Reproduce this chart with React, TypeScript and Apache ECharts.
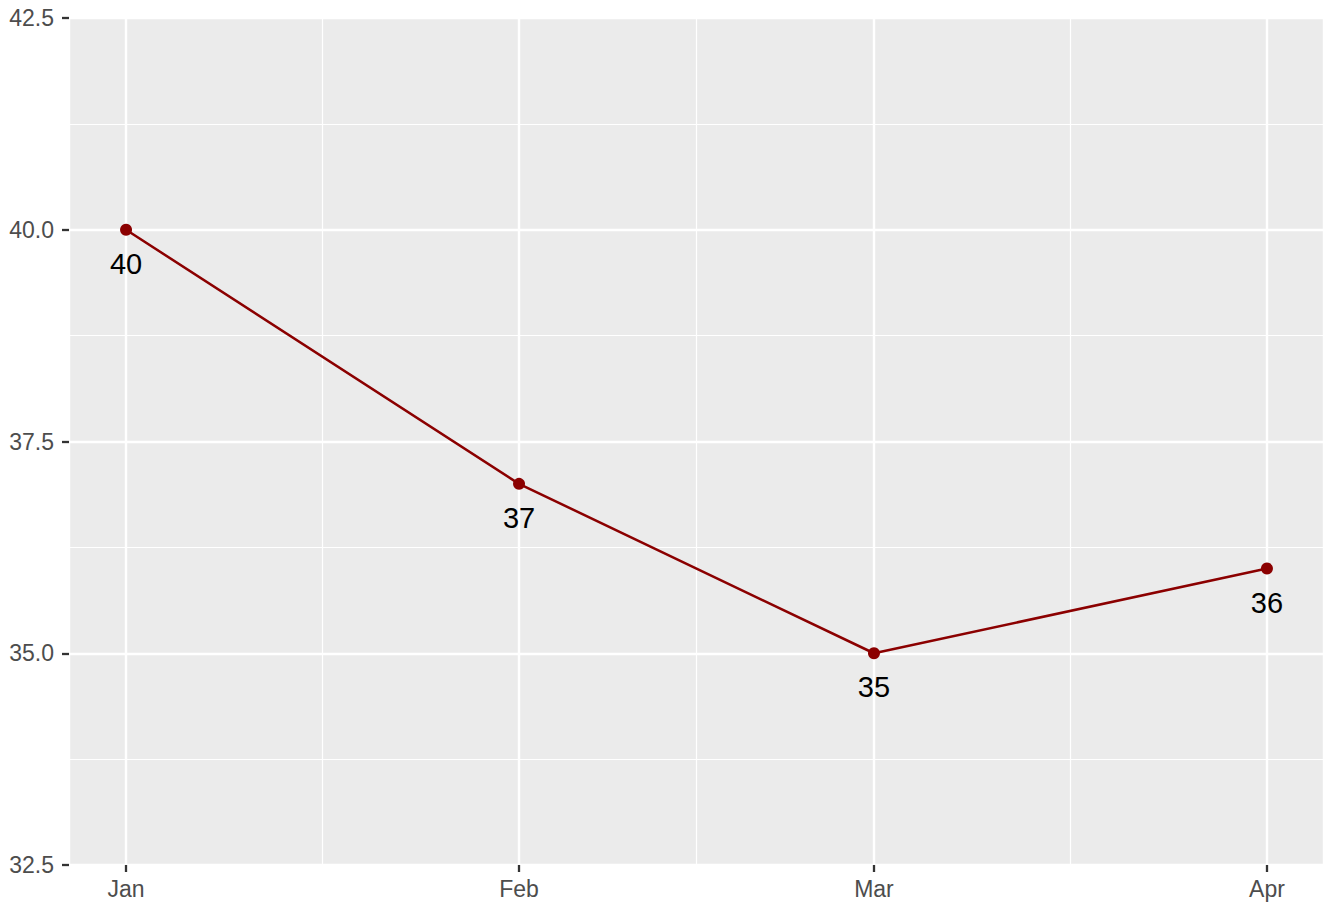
import React, { useEffect, useRef } from "react";
import * as echarts from "echarts";

const monthDates = ["2023-01-01", "2023-02-01", "2023-03-01", "2023-04-01"];
const monthNames = ["Jan", "Feb", "Mar", "Apr", "May", "Jun", "Jul", "Aug", "Sep", "Oct", "Nov", "Dec"];
const values = [40, 37, 35, 36];
const yMin = 32.5;
const yMax = 42.5;
const yStep = 2.5;

const DAY = 86400000;

export default function App() {
  const ref = useRef<HTMLDivElement>(null);
  useEffect(() => {
    document.body.style.margin = "0";
    const chart = echarts.init(ref.current!, null, { renderer: "svg" });
    const times = monthDates.map((d) => new Date(d + "T00:00:00").getTime());
    const span = times[times.length - 1] - times[0];
    const xMin = times[0] - span * 0.05;
    const xMax = times[times.length - 1] + span * 0.05;
    const minor = times.slice(1).map((t, i) => (t + times[i]) / 2);
    const font = "Liberation Sans, Arial, Helvetica, sans-serif";

    chart.setOption({
      animation: false,
      backgroundColor: "#FFFFFF",
      grid: {
        left: 69,
        right: 1,
        top: 18,
        bottom: 42,
        show: true,
        backgroundColor: "#EBEBEB",
        borderWidth: 0,
        containLabel: false,
      },
      xAxis: {
        type: "time",
        min: xMin,
        max: xMax,
        splitNumber: 3,
        minInterval: 28 * DAY,
        axisLine: { show: false },
        axisTick: { show: true, length: 7, lineStyle: { color: "#333333", width: 2.3 } },
        axisLabel: {
          color: "#4D4D4D",
          fontSize: 23,
          fontFamily: font,
          margin: 12,
          hideOverlap: false,
          formatter: (v: number) => monthNames[new Date(v).getMonth()],
        },
        splitLine: { show: true, lineStyle: { color: "#FFFFFF", width: 2.4 } },
      },
      yAxis: {
        type: "value",
        min: yMin,
        max: yMax,
        interval: yStep,
        axisLine: { show: false },
        axisTick: { show: true, length: 7, lineStyle: { color: "#333333", width: 2.3 } },
        axisLabel: {
          color: "#4D4D4D",
          fontSize: 23,
          fontFamily: font,
          margin: 15,
          formatter: (v: number) => v.toFixed(1),
        },
        splitLine: { show: true, lineStyle: { color: "#FFFFFF", width: 2.4 } },
        minorTick: { show: false, splitNumber: 2 },
        minorSplitLine: { show: true, lineStyle: { color: "#FFFFFF", width: 1.2 } },
      },
      series: [
        {
          type: "line",
          data: [],
          z: 0,
          silent: true,
          markLine: {
            z: 0,
            silent: true,
            symbol: ["none", "none"],
            label: { show: false },
            lineStyle: { color: "#FFFFFF", width: 1.2, type: "solid" },
            data: minor.map((t) => ({ xAxis: t })),
          },
        },
        {
          type: "line",
          z: 5,
          data: times.map((t, i) => [t, values[i]]),
          symbol: "circle",
          symbolSize: 12,
          lineStyle: { color: "#8B0000", width: 2.5 },
          itemStyle: { color: "#8B0000" },
          label: {
            show: true,
            position: "bottom",
            distance: 13.5,
            color: "#000000",
            fontSize: 29,
            fontFamily: font,
            formatter: (p: any) => String(p.value[1]),
          },
        },
      ],
    });
    return () => chart.dispose();
  }, []);
  return <div ref={ref} style={{ position: "absolute", left: 0, top: 0, width: 1325, height: 907 }} />;
}
